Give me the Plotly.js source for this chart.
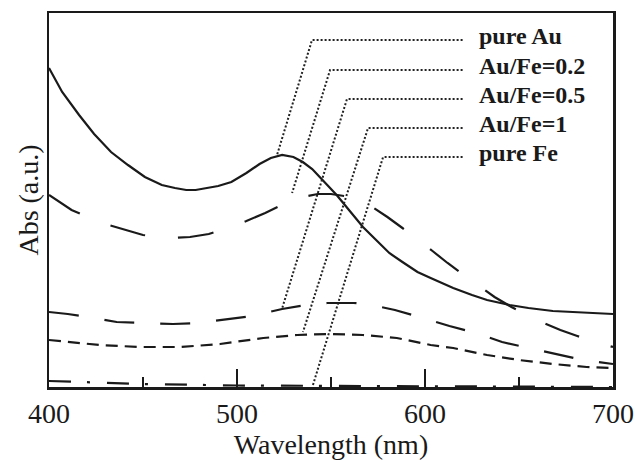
<!DOCTYPE html>
<html>
<head>
<meta charset="utf-8">
<script src="https://cdn.plot.ly/plotly-3.0.1.min.js"></script>
<style>html,body{margin:0;padding:0;background:#fff;}#chart{width:635px;height:460px;}</style>
</head>
<body>
<div id="chart"></div>
<script>
// ---- data ----
const seriesNames = ["pure Au", "Au/Fe=0.2", "Au/Fe=0.5", "Au/Fe=1", "pure Fe"];

const wlAu   = [400,407,416,424,433,442,451,460,467,473,478,484,490,497,505,512,518,524,530,535,540,544,548,553,560,567,574,581,588,596,603,615,625,633,645,655,668,680,690,700];
const absAu  = [3.19,2.95,2.72,2.53,2.35,2.22,2.10,2.02,1.99,1.97,1.97,1.99,2.01,2.05,2.14,2.23,2.29,2.32,2.30,2.25,2.18,2.10,2.02,1.92,1.76,1.60,1.47,1.34,1.25,1.15,1.09,0.99,0.92,0.87,0.82,0.79,0.76,0.75,0.74,0.73];

const wlAuFe02  = [400,412,430,450,465,475,485,495,505,515,525,535,543,550,557,564,572,580,588,596,604,612,620,628,637,646,655,663,672,681,690,700];
const absAuFe02 = [1.92,1.77,1.63,1.52,1.49,1.50,1.53,1.59,1.66,1.74,1.83,1.90,1.93,1.93,1.91,1.88,1.80,1.70,1.59,1.48,1.36,1.24,1.13,1.02,0.90,0.80,0.71,0.64,0.57,0.51,0.45,0.40];

const wlAuFe05  = [400,410,421,436,449,466,479,495,508,524,540,548,555,562,569,584,597,613,627,641,655,671,684,700];
const absAuFe05 = [0.75,0.73,0.70,0.65,0.64,0.63,0.64,0.68,0.71,0.78,0.83,0.84,0.84,0.84,0.83,0.77,0.70,0.61,0.54,0.45,0.39,0.32,0.27,0.23];

const wlAuFe1  = [400,427,448,470,491,514,532,549,567,585,603,615,633,650,668,686,700];
const absAuFe1 = [0.47,0.42,0.40,0.40,0.43,0.49,0.52,0.53,0.52,0.49,0.42,0.39,0.32,0.27,0.23,0.20,0.19];

const wlFe  = [400,420,450,500,550,600,650,700];
const absFe = [0.06,0.045,0.03,0.015,0.01,0.005,0.003,0.0];

const xTickVals = [400, 500, 600, 700];
const xTickText = ["400", "500", "600", "700"];

// label leader geometry: label anchor, elbow and the point on the curve
const labelX   = 620;
const elbowWl  = [539.9, 549.5, 558.5, 569.7, 577.7];
const elbowAbs = [3.47, 3.17, 2.88, 2.59, 2.30];
const targetWl  = [521.3, 529.3, 523.9, 535.1, 540.4];
const targetAbs = [2.32, 1.94, 0.78, 0.55, 0.02];

// ---- styles ----
const ink = "#1a1a1a";
const serif = "'Liberation Serif', 'Times New Roman', serif";
const dashes = ["solid", "36px,33px", "30px,26px", "12px,7px", "22px,16px,3px,17px"];
const xs = [wlAu, wlAuFe02, wlAuFe05, wlAuFe1, wlFe];
const ys = [absAu, absAuFe02, absAuFe05, absAuFe1, absFe];

const traces = seriesNames.map((n, i) => ({
  x: xs[i], y: ys[i], name: n, type: "scatter", mode: "lines",
  line: {color: ink, width: 2.2, dash: dashes[i], shape: "linear"},
  showlegend: false, hoverinfo: "skip"
}));

const shapes = seriesNames.map((n, i) => ({
  type: "path", xref: "x", yref: "y", layer: "above",
  path: `M ${labelX},${elbowAbs[i]} L ${elbowWl[i]},${elbowAbs[i]} L ${targetWl[i]},${targetAbs[i]}`,
  line: {color: "#222", width: 2, dash: "2px,2px"}
}));

const annotations = seriesNames.map((n, i) => ({
  x: labelX + 7.5, y: elbowAbs[i] + 0.04, xref: "x", yref: "y",
  text: n, showarrow: false, xanchor: "left", yanchor: "middle",
  font: {family: serif, size: 24, color: ink, weight: "bold"}
}));

const layout = {
  width: 635, height: 460,
  margin: {l: 49, r: 22, t: 13, b: 73},
  paper_bgcolor: "#fff", plot_bgcolor: "#fff",
  xaxis: {
    range: [400, 700], tickvals: xTickVals, ticktext: xTickText,
    ticks: "inside", ticklen: 18, tickwidth: 2.5, tickcolor: ink,
    minor: {dtick: 100, tick0: 450, ticks: "inside", ticklen: 10, tickwidth: 2.5, tickcolor: ink, showgrid: false},
    showline: true, linewidth: 2.5, linecolor: ink, mirror: true,
    showgrid: false, zeroline: false,
    tickfont: {family: serif, size: 28, color: ink},
    title: {text: "Wavelength (nm)", font: {family: serif, size: 28, color: ink}, standoff: 4}
  },
  yaxis: {
    range: [0, 3.74], showticklabels: false, ticks: "",
    showline: true, linewidth: 2.5, linecolor: ink, mirror: true,
    showgrid: false, zeroline: false,
    title: {text: "Abs (a.u.)", font: {family: serif, size: 28, color: ink}, standoff: 0}
  },
  shapes: shapes,
  annotations: annotations
};

Plotly.newPlot("chart", traces, layout, {displayModeBar: false, staticPlot: true});
</script>
</body>
</html>
